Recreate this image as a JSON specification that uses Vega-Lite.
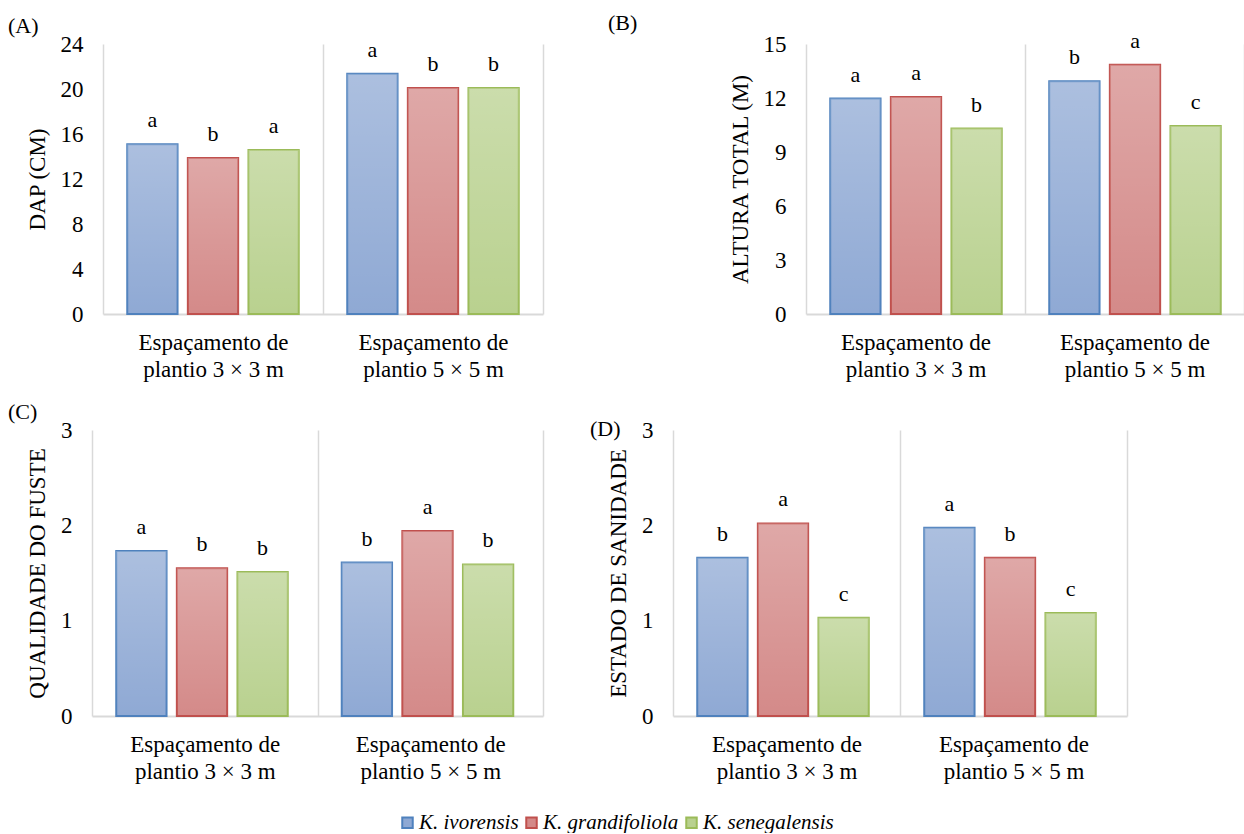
{
  "$schema": "https://vega.github.io/schema/vega-lite/v6.json",
  "padding": {"left": 8, "top": 11, "right": 0, "bottom": 0},
  "data": {"values": [
    {"panel": "A", "grp": "Espaçamento de plantio 3 × 3 m", "sp": "K. ivorensis", "v": 15.08, "let": "a"},
    {"panel": "A", "grp": "Espaçamento de plantio 3 × 3 m", "sp": "K. grandifoliola", "v": 13.87, "let": "b"},
    {"panel": "A", "grp": "Espaçamento de plantio 3 × 3 m", "sp": "K. senegalensis", "v": 14.58, "let": "a"},
    {"panel": "A", "grp": "Espaçamento de plantio 5 × 5 m", "sp": "K. ivorensis", "v": 21.35, "let": "a"},
    {"panel": "A", "grp": "Espaçamento de plantio 5 × 5 m", "sp": "K. grandifoliola", "v": 20.1, "let": "b"},
    {"panel": "A", "grp": "Espaçamento de plantio 5 × 5 m", "sp": "K. senegalensis", "v": 20.1, "let": "b"},
    {"panel": "B", "grp": "Espaçamento de plantio 3 × 3 m", "sp": "K. ivorensis", "v": 11.97, "let": "a"},
    {"panel": "B", "grp": "Espaçamento de plantio 3 × 3 m", "sp": "K. grandifoliola", "v": 12.05, "let": "a"},
    {"panel": "B", "grp": "Espaçamento de plantio 3 × 3 m", "sp": "K. senegalensis", "v": 10.3, "let": "b"},
    {"panel": "B", "grp": "Espaçamento de plantio 5 × 5 m", "sp": "K. ivorensis", "v": 12.93, "let": "b"},
    {"panel": "B", "grp": "Espaçamento de plantio 5 × 5 m", "sp": "K. grandifoliola", "v": 13.85, "let": "a"},
    {"panel": "B", "grp": "Espaçamento de plantio 5 × 5 m", "sp": "K. senegalensis", "v": 10.45, "let": "c"},
    {"panel": "C", "grp": "Espaçamento de plantio 3 × 3 m", "sp": "K. ivorensis", "v": 1.73, "let": "a"},
    {"panel": "C", "grp": "Espaçamento de plantio 3 × 3 m", "sp": "K. grandifoliola", "v": 1.55, "let": "b"},
    {"panel": "C", "grp": "Espaçamento de plantio 3 × 3 m", "sp": "K. senegalensis", "v": 1.51, "let": "b"},
    {"panel": "C", "grp": "Espaçamento de plantio 5 × 5 m", "sp": "K. ivorensis", "v": 1.61, "let": "b"},
    {"panel": "C", "grp": "Espaçamento de plantio 5 × 5 m", "sp": "K. grandifoliola", "v": 1.94, "let": "a"},
    {"panel": "C", "grp": "Espaçamento de plantio 5 × 5 m", "sp": "K. senegalensis", "v": 1.59, "let": "b"},
    {"panel": "D", "grp": "Espaçamento de plantio 3 × 3 m", "sp": "K. ivorensis", "v": 1.66, "let": "b"},
    {"panel": "D", "grp": "Espaçamento de plantio 3 × 3 m", "sp": "K. grandifoliola", "v": 2.02, "let": "a"},
    {"panel": "D", "grp": "Espaçamento de plantio 3 × 3 m", "sp": "K. senegalensis", "v": 1.03, "let": "c"},
    {"panel": "D", "grp": "Espaçamento de plantio 5 × 5 m", "sp": "K. ivorensis", "v": 1.975, "let": "a"},
    {"panel": "D", "grp": "Espaçamento de plantio 5 × 5 m", "sp": "K. grandifoliola", "v": 1.66, "let": "b"},
    {"panel": "D", "grp": "Espaçamento de plantio 5 × 5 m", "sp": "K. senegalensis", "v": 1.08, "let": "c"}
  ]},
  "spacing": 20,
  "vconcat": [
    {
      "spacing": 65,
      "hconcat": [
        {
          "width": 451, "height": 270,
          "title": {"text": "(A)", "dx": -84},
          "transform": [{"filter": "datum.panel == 'A'"}],
          "encoding": {
            "x": {"field": "grp", "type": "nominal", "sort": null, "scale": {"paddingInner": 0, "paddingOuter": 0, "range": [11, 451]},
                  "axis": {"title": null, "grid": true, "tickBand": "extent", "labelExpr": "[slice(datum.label,0,14), slice(datum.label,15)]"}},
            "xOffset": {"field": "sp", "type": "nominal", "sort": null, "scale": {"paddingInner": 0.17, "paddingOuter": 0.4}},
            "y": {"field": "v", "type": "quantitative", "scale": {"domain": [0, 24], "nice": false},
                  "axis": {"title": "DAP (CM)", "values": [0, 4, 8, 12, 16, 20, 24], "offset": -11}}
          },
          "layer": [
            {"mark": {"type": "bar", "strokeWidth": 2},
             "encoding": {
               "fill": {"field": "sp", "type": "nominal", "sort": null,
                        "scale": {"domain": ["K. ivorensis", "K. grandifoliola", "K. senegalensis"], "range": ["#8FA9D4", "#D48A89", "#B9D18F"]},
                        "legend": {"title": null, "orient": "none", "legendX": 305, "legendY": 768, "direction": "horizontal"}},
               "stroke": {"field": "sp", "type": "nominal", "sort": null,
                        "scale": {"domain": ["K. ivorensis", "K. grandifoliola", "K. senegalensis"], "range": ["#4F81BD", "#C0504D", "#9BBB59"]},
                        "legend": {"title": null, "orient": "none", "legendX": 305, "legendY": 768, "direction": "horizontal"}}
             }},
            {"mark": {"type": "bar", "strokeWidth": 0, "fill": {"gradient": "linear", "x1": 0, "y1": 0, "x2": 0, "y2": 1,
               "stops": [{"offset": 0, "color": "rgba(255,255,255,0.26)"}, {"offset": 1, "color": "rgba(255,255,255,0)"}]}}},
            {"mark": {"type": "text", "dy": -17, "baseline": "alphabetic", "fontSize": 22, "font": "Liberation Serif", "color": "#000"},
             "encoding": {"text": {"field": "let"}}}
          ]
        },
        {
          "width": 438, "height": 270,
          "title": {"text": "(B)", "dx": -198},
          "transform": [{"filter": "datum.panel == 'B'"}],
          "encoding": {
            "x": {"field": "grp", "type": "nominal", "sort": null, "scale": {"paddingInner": 0, "paddingOuter": 0},
                  "axis": {"title": null, "grid": true, "tickBand": "extent", "labelExpr": "[slice(datum.label,0,14), slice(datum.label,15)]"}},
            "xOffset": {"field": "sp", "type": "nominal", "sort": null, "scale": {"paddingInner": 0.17, "paddingOuter": 0.4}},
            "y": {"field": "v", "type": "quantitative", "scale": {"domain": [0, 15], "nice": false},
                  "axis": {"title": "ALTURA TOTAL (M)", "values": [0, 3, 6, 9, 12, 15]}}
          },
          "layer": [
            {"mark": {"type": "bar", "strokeWidth": 2},
             "encoding": {
               "fill": {"field": "sp", "type": "nominal", "sort": null,
                        "scale": {"domain": ["K. ivorensis", "K. grandifoliola", "K. senegalensis"], "range": ["#8FA9D4", "#D48A89", "#B9D18F"]},
                        "legend": {"title": null, "orient": "none", "legendX": 305, "legendY": 768, "direction": "horizontal"}},
               "stroke": {"field": "sp", "type": "nominal", "sort": null,
                        "scale": {"domain": ["K. ivorensis", "K. grandifoliola", "K. senegalensis"], "range": ["#4F81BD", "#C0504D", "#9BBB59"]},
                        "legend": {"title": null, "orient": "none", "legendX": 305, "legendY": 768, "direction": "horizontal"}}
             }},
            {"mark": {"type": "bar", "strokeWidth": 0, "fill": {"gradient": "linear", "x1": 0, "y1": 0, "x2": 0, "y2": 1,
               "stops": [{"offset": 0, "color": "rgba(255,255,255,0.26)"}, {"offset": 1, "color": "rgba(255,255,255,0)"}]}}},
            {"mark": {"type": "text", "dy": -17, "baseline": "alphabetic", "fontSize": 22, "font": "Liberation Serif", "color": "#000"},
             "encoding": {"text": {"field": "let"}}}
          ]
        }
      ]
    },
    {
      "spacing": 47,
      "hconcat": [
        {
          "width": 451, "height": 286,
          "title": {"text": "(C)", "dx": -84},
          "transform": [{"filter": "datum.panel == 'C'"}],
          "encoding": {
            "x": {"field": "grp", "type": "nominal", "sort": null, "scale": {"paddingInner": 0, "paddingOuter": 0},
                  "axis": {"title": null, "grid": true, "tickBand": "extent", "labelExpr": "[slice(datum.label,0,14), slice(datum.label,15)]"}},
            "xOffset": {"field": "sp", "type": "nominal", "sort": null, "scale": {"paddingInner": 0.17, "paddingOuter": 0.4}},
            "y": {"field": "v", "type": "quantitative", "scale": {"domain": [0, 3], "nice": false},
                  "axis": {"title": "QUALIDADE DO FUSTE", "values": [0, 1, 2, 3]}}
          },
          "layer": [
            {"mark": {"type": "bar", "strokeWidth": 2},
             "encoding": {
               "fill": {"field": "sp", "type": "nominal", "sort": null,
                        "scale": {"domain": ["K. ivorensis", "K. grandifoliola", "K. senegalensis"], "range": ["#8FA9D4", "#D48A89", "#B9D18F"]},
                        "legend": {"title": null, "orient": "none", "legendX": 305, "legendY": 768, "direction": "horizontal"}},
               "stroke": {"field": "sp", "type": "nominal", "sort": null,
                        "scale": {"domain": ["K. ivorensis", "K. grandifoliola", "K. senegalensis"], "range": ["#4F81BD", "#C0504D", "#9BBB59"]},
                        "legend": {"title": null, "orient": "none", "legendX": 305, "legendY": 768, "direction": "horizontal"}}
             }},
            {"mark": {"type": "bar", "strokeWidth": 0, "fill": {"gradient": "linear", "x1": 0, "y1": 0, "x2": 0, "y2": 1,
               "stops": [{"offset": 0, "color": "rgba(255,255,255,0.26)"}, {"offset": 1, "color": "rgba(255,255,255,0)"}]}}},
            {"mark": {"type": "text", "dy": -17, "baseline": "alphabetic", "fontSize": 22, "font": "Liberation Serif", "color": "#000"},
             "encoding": {"text": {"field": "let"}}}
          ]
        },
        {
          "width": 454, "height": 286,
          "title": {"text": "(D)", "dx": -83, "dy": 17},
          "transform": [{"filter": "datum.panel == 'D'"}],
          "encoding": {
            "x": {"field": "grp", "type": "nominal", "sort": null, "scale": {"paddingInner": 0, "paddingOuter": 0},
                  "axis": {"title": null, "grid": true, "tickBand": "extent", "labelExpr": "[slice(datum.label,0,14), slice(datum.label,15)]"}},
            "xOffset": {"field": "sp", "type": "nominal", "sort": null, "scale": {"paddingInner": 0.17, "paddingOuter": 0.4}},
            "y": {"field": "v", "type": "quantitative", "scale": {"domain": [0, 3], "nice": false},
                  "axis": {"title": "ESTADO DE SANIDADE", "values": [0, 1, 2, 3]}}
          },
          "layer": [
            {"mark": {"type": "bar", "strokeWidth": 2},
             "encoding": {
               "fill": {"field": "sp", "type": "nominal", "sort": null,
                        "scale": {"domain": ["K. ivorensis", "K. grandifoliola", "K. senegalensis"], "range": ["#8FA9D4", "#D48A89", "#B9D18F"]},
                        "legend": {"title": null, "orient": "none", "legendX": 305, "legendY": 768, "direction": "horizontal"}},
               "stroke": {"field": "sp", "type": "nominal", "sort": null,
                        "scale": {"domain": ["K. ivorensis", "K. grandifoliola", "K. senegalensis"], "range": ["#4F81BD", "#C0504D", "#9BBB59"]},
                        "legend": {"title": null, "orient": "none", "legendX": 305, "legendY": 768, "direction": "horizontal"}}
             }},
            {"mark": {"type": "bar", "strokeWidth": 0, "fill": {"gradient": "linear", "x1": 0, "y1": 0, "x2": 0, "y2": 1,
               "stops": [{"offset": 0, "color": "rgba(255,255,255,0.26)"}, {"offset": 1, "color": "rgba(255,255,255,0)"}]}}},
            {"mark": {"type": "text", "dy": -17, "baseline": "alphabetic", "fontSize": 22, "font": "Liberation Serif", "color": "#000"},
             "encoding": {"text": {"field": "let"}}}
          ]
        }
      ]
    }
  ],
  "config": {
    "font": "Liberation Serif",
    "view": {"stroke": null},
    "axis": {"labelFont": "Liberation Serif", "titleFont": "Liberation Serif", "labelFontSize": 23, "titleFontSize": 23,
             "labelColor": "#000", "titleColor": "#000", "titleFontWeight": "normal", "ticks": false},
    "axisY": {"domain": false, "grid": false, "labelPadding": 20, "titlePadding": 11},
    "axisX": {"gridColor": "#d9d9d9", "gridWidth": 1.5, "domainColor": "#d9d9d9", "domainWidth": 2,
              "labelAngle": 0, "labelPadding": 17, "labelLineHeight": 27, "labelLimit": 300},
    "title": {"font": "Liberation Serif", "fontSize": 22, "fontWeight": "normal", "anchor": "start", "frame": "group", "offset": -5, "color": "#000"},
    "legend": {"symbolType": "square", "symbolSize": 110, "symbolStrokeWidth": 2, "labelFont": "Liberation Serif", "padding": 0,
               "labelFontSize": 21, "labelFontStyle": "italic", "labelColor": "#000", "columnPadding": 2, "labelOffset": 1}
  }
}
